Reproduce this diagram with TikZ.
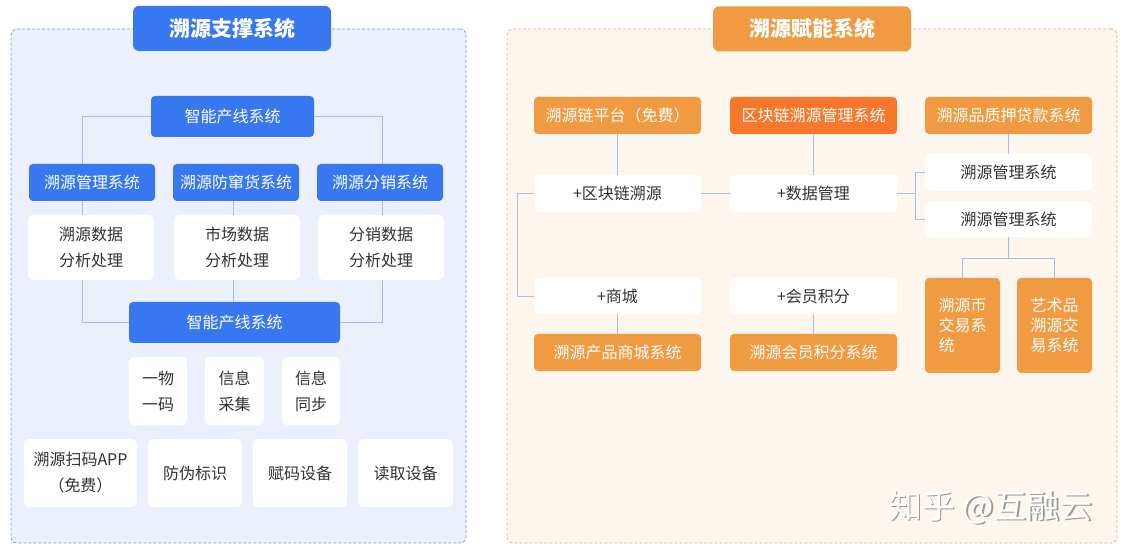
\documentclass[tikz,border=0pt]{standalone}
\usepackage{fontspec}
\setmainfont{Noto Sans CJK SC}
\definecolor{blueM}{HTML}{3777F0}
\definecolor{panelLfill}{HTML}{EBF0FC}
\definecolor{panelLdraw}{HTML}{7F9AC2}
\definecolor{panelRfill}{HTML}{FDF6EE}
\definecolor{panelRdraw}{HTML}{DDB98E}
\definecolor{orangeM}{HTML}{F09A42}
\definecolor{orangeD}{HTML}{F7782B}
\definecolor{lineC}{HTML}{A9BEE2}
\definecolor{txt}{HTML}{333333}
\begin{document}
\begin{tikzpicture}[x=1pt,y=-1pt,
  every node/.style={inner sep=0pt, font=\fontsize{16}{26}\selectfont, align=center},
  sz/.style 2 args={minimum width=#1, minimum height=#2},
  bluebox/.style={fill=blueM, text=white, rounded corners=4pt},
  whitebox/.style={fill=white, text=txt, rounded corners=5pt},
  orangebox/.style={fill=orangeM, text=white, rounded corners=4pt},
  titlebox/.style={rounded corners=6pt, text=white, font=\fontsize{21}{26}\selectfont\bfseries},
  link/.style={draw=lineC, line width=0.9pt},
  panel/.style={rounded corners=6pt, dash pattern=on 3pt off 2pt, line width=0.8pt},
  tallbox/.style={orangebox, font=\fontsize{16}{20}\selectfont, align=left, text width=48pt},
  wmark/.style={font=\fontsize{33}{33}\selectfont}
]
\useasboundingbox[fill=white] (0,0) rectangle (1125,553);

% ---------- left panel ----------
\node[panel, draw=panelLdraw, fill=panelLfill, sz={455}{514}] (pL) at (238.5,286) {};
\node[titlebox, fill=blueM, sz={198}{45}] (tL) at (232,28.5) {溯源支撑系统};

\coordinate (c1) at (82,0);
\coordinate (c2) at (233,0);
\coordinate (c3) at (382,0);

\node[bluebox, sz={163}{41}] (t1) at (232.5,116.5) {智能产线系统};
\node[bluebox, sz={126}{37}] (m1) at (92,182.5) {溯源管理系统};
\node[bluebox, sz={126}{37}] (m2) at (236,182.5) {溯源防窜货系统};
\node[bluebox, sz={126}{37}] (m3) at (380,182.5) {溯源分销系统};
\node[whitebox, sz={126}{65}] (w1) at (91,247.5) {溯源数据\\分析处理};
\node[whitebox, sz={126}{65}] (w2) at (237,247.5) {市场数据\\分析处理};
\node[whitebox, sz={126}{65}] (w3) at (381,247.5) {分销数据\\分析处理};
\node[bluebox, sz={211}{41}] (t2) at (234.5,322.5) {智能产线系统};
\node[whitebox, sz={58}{68}] (a1) at (158,391) {一物\\一码};
\node[whitebox, sz={59}{68}] (a2) at (234.5,391) {信息\\采集};
\node[whitebox, sz={58}{68}] (a3) at (311,391) {信息\\同步};
\node[whitebox, sz={113}{68}] (b1) at (80.5,473) {溯源扫码APP\\（免费）};
\node[whitebox, sz={94}{68}] (b2) at (195,473) {防伪标识};
\node[whitebox, sz={94}{68}] (b3) at (300,473) {赋码设备};
\node[whitebox, sz={95}{68}] (b4) at (405.5,473) {读取设备};

\draw[link] (t1.west) -| (m1.north -| c1);
\draw[link] (t1.east) -| (m3.north -| c3);
\draw[link] (m1.south -| c1) -- (w1.north -| c1);
\draw[link] (m2.south -| c2) -- (w2.north -| c2);
\draw[link] (m3.south -| c3) -- (w3.north -| c3);
\draw[link] (w1.south -| c1) |- (t2.west);
\draw[link] (w2.south -| c2) -- (t2.north -| c2);
\draw[link] (w3.south -| c3) |- (t2.east);

% ---------- right panel ----------
\node[panel, draw=panelRdraw, fill=panelRfill, sz={610}{514}] (pR) at (812,286) {};
\node[titlebox, fill=orangeM, sz={198}{45}] (tR) at (812,29) {溯源赋能系统};

\node[orangebox, sz={167}{37}] (p1) at (617.5,115.5) {溯源链平台（免费）};
\node[orangebox, fill=orangeD, sz={167}{37}] (p2) at (813.5,115.5) {区块链溯源管理系统};
\node[orangebox, sz={167}{37}] (p3) at (1008.5,115.5) {溯源品质押贷款系统};
\node[whitebox, sz={167}{37}] (q1) at (617.5,193.5) {+区块链溯源};
\node[whitebox, sz={167}{37}] (q2) at (813.5,193.5) {+数据管理};
\node[whitebox, sz={167}{37}] (r1) at (1008.5,172.5) {溯源管理系统};
\node[whitebox, sz={167}{36}] (r2) at (1008.5,219) {溯源管理系统};
\node[whitebox, sz={167}{36}] (q3) at (617.5,296) {+商城};
\node[whitebox, sz={167}{36}] (q4) at (813.5,296) {+会员积分};
\node[orangebox, sz={167}{37}] (u1) at (617.5,352.5) {溯源产品商城系统};
\node[orangebox, sz={167}{37}] (u2) at (813.5,352.5) {溯源会员积分系统};
\node[tallbox, sz={75}{95}] (s1) at (962.5,325.5) {溯源币\\交易系\\统};
\node[tallbox, sz={75}{95}] (s2) at (1054.5,325.5) {艺术品\\溯源交\\易系统};

\coordinate (bx) at (915,0);
\coordinate (lx) at (517,0);
\draw[link] (p1.south) -- (q1.north);
\draw[link] (p2.south) -- (q2.north);
\draw[link] (p3.south) -- (r1.north);
\draw[link] (q1.east) -- (q2.west);
\draw[link] (q2.east) -- (q2.east -| bx);
\draw[link] (r1.west) -- (r1.west -| bx) -- (r2.west -| bx) -- (r2.west);
\draw[link] (q1.west) -- (q1.west -| lx) |- (q3.west);
\draw[link] (q3.south) -- (u1.north);
\draw[link] (q4.south) -- (u2.north);
\draw[link] (r2.south) -- ++(0,21) coordinate (jn);
\draw[link] (s1.north) |- (jn) -| (s2.north);

% ---------- watermark ----------
\node[wmark, text=black!40] (wmS) at (992.5,508.5) {知乎 @互融云};
\node[wmark, text=white] (wm) at (991,507) {知乎 @互融云};
\end{tikzpicture}
\end{document}
